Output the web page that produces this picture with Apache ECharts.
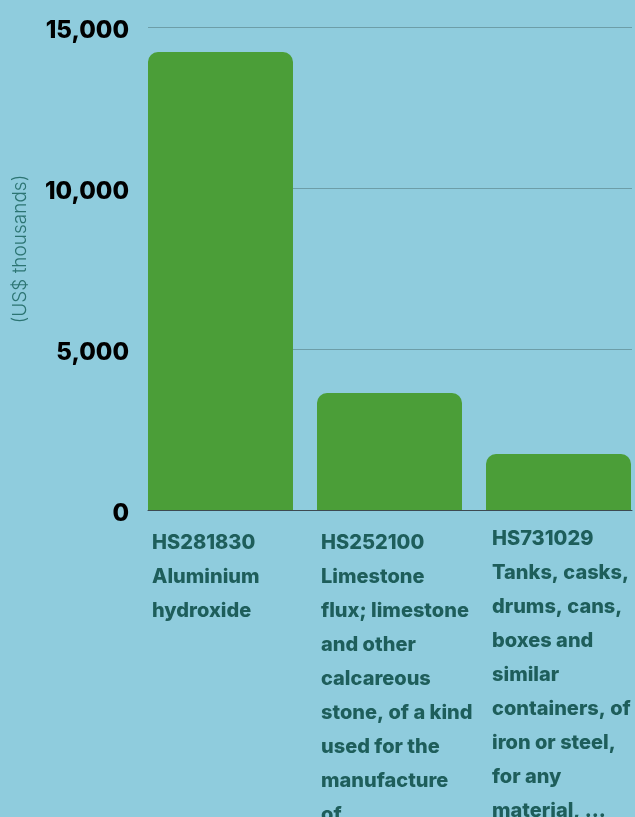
<!DOCTYPE html>
<html>
<head>
<meta charset="utf-8">
<script src="https://cdn.jsdelivr.net/npm/echarts@6/dist/echarts.min.js"></script>
<style>
  html, body { margin: 0; padding: 0; background: #8fccdd; }
  #chart { width: 635px; height: 817px; }
</style>
</head>
<body>
<div id="chart"></div>
<script>
// product categories (line breaks as shown under the bars)
const categories = [
  'HS281830\nAluminium\nhydroxide',
  'HS252100\nLimestone\nflux; limestone\nand other\ncalcareous\nstone, of a kind\nused for the\nmanufacture\nof ...',
  'HS731029\nTanks, casks,\ndrums, cans,\nboxes and\nsimilar\ncontainers, of\niron or steel,\nfor any\nmaterial, ...'
]
const values = [14220, 3630, 1740]
const yTicks = [0, 5000, 10000, 15000]

const chart = echarts.init(document.getElementById('chart'))
const fmt = (v) => v.toLocaleString('en-US')
const labelColor = '#1e5e5b'

// bars sit flush with both ends of the plot, so the x scale is a
// plain index axis: one unit per category, a little trimmed at the ends
const edge = 0.429

chart.setOption({
  backgroundColor: '#8fccdd',
  animation: false,
  textStyle: { fontFamily: 'Inter' },
  grid: { left: 148, right: 3, top: 27, bottom: 307, outerBoundsMode: 'none' },
  xAxis: {
    type: 'value', min: -edge, max: categories.length - 1 + (484 / 169 - 2 - edge),
    axisLine: { show: true, onZero: false, lineStyle: { color: '#3d4a52', width: 1 } },
    axisTick: { show: false }, axisLabel: { show: false }, splitLine: { show: false },
  },
  yAxis: {
    type: 'value', min: yTicks[0], max: yTicks[yTicks.length - 1], interval: 5000,
    axisLine: { show: false }, axisTick: { show: false },
    axisLabel: {
      color: '#000', fontSize: 24, fontWeight: 800, margin: 19,
      formatter: (v) => '{n|' + fmt(v) + '}',
      rich: { n: { color: '#000', fontSize: 24, fontWeight: 800, padding: [8, 0, 0, 0] } },
    },
    splitLine: { lineStyle: { color: '#6d9ea8', width: 1 } },
  },
  graphic: [{
    type: 'text', x: 20, y: 249, rotation: Math.PI / 2,
    style: {
      text: '(US$ thousands)', fill: '#2c7472', font: '300 19px Inter',
      align: 'center', verticalAlign: 'middle',
    },
  }],
  series: [{
    type: 'bar',
    // the last label sits a touch higher and further in, as in the source
    data: values.map((v, i) => (i === 2 ? { value: [i, v], label: { offset: [6, 12] } } : [i, v])),
    barWidth: 145,
    itemStyle: { color: '#4b9e38', borderRadius: [10, 10, 0, 0] },
    label: {
      show: true, position: ['0%', '100%'], offset: [4, 16],
      align: 'left', verticalAlign: 'top',
      formatter: (p) => categories[p.dataIndex],
      color: labelColor, fontSize: 20, fontWeight: 800, lineHeight: 34,
    },
  }],
})
</script>
</body>
</html>
